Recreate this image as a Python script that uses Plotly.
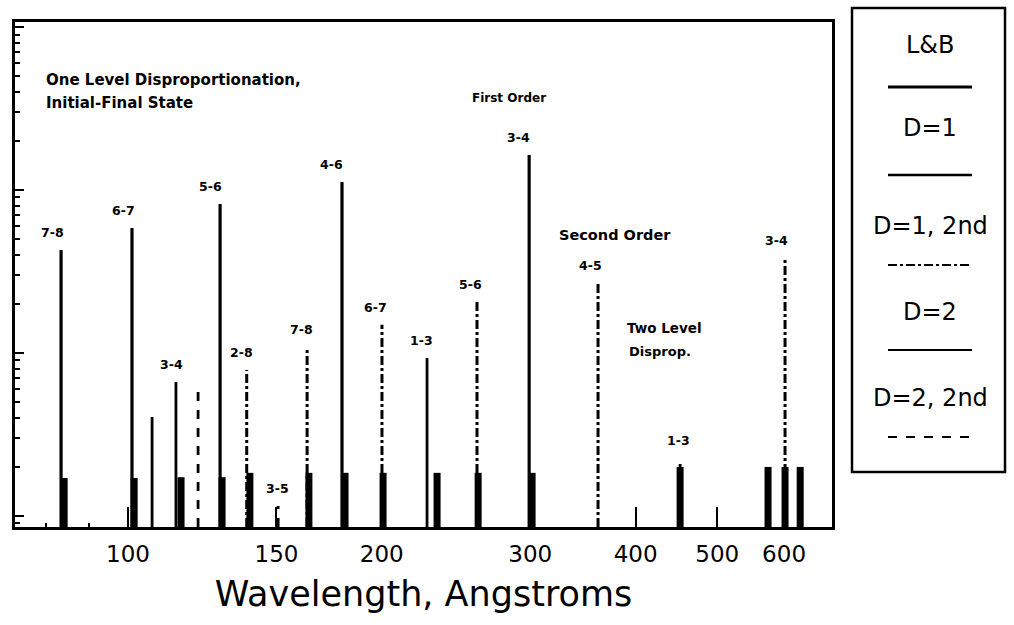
import plotly.graph_objects as go
import math

# ---------------- data ----------------
# L&B observed lines (short thick bars)
lb_wavelength = [84.0, 101.7, 115.6, 129.3, 139.5, 163.9, 180.9, 200.7, 232.6, 260.2, 301.5, 451.7, 574.3, 601.6, 627.0]
lb_intensity = [1.71, 1.71, 1.73, 1.73, 1.84, 1.84, 1.84, 1.84, 1.84, 1.84, 1.84, 2.0, 2.0, 2.0, 2.0]

# D=1 first order (one level disproportionation)
d1_labels = ["7-8", "6-7", "5-6", "4-6", "3-4"]
d1_wavelength = [83.3, 101.1, 128.6, 179.4, 299.1]
d1_intensity = [42.9, 58.4, 82.0, 112.0, 164.0]

# D=1 second order
d1s_labels = ["2-8", "7-8", "6-7", "5-6", "4-5", "3-4"]
d1s_wavelength = [138.3, 163.1, 200.1, 259.4, 361.0, 601.6]
d1s_intensity = [7.87, 10.9, 14.9, 20.6, 26.9, 38.3]

# D=2 first order (two level disproportionation)
d2_labels = ["", "3-4", "1-3"]
d2_wavelength = [106.8, 114.0, 226.3]
d2_intensity = [4.05, 6.64, 9.31]

# D=2 second order
d2s_labels = ["", "3-5", "1-3"]
d2s_wavelength = [121.1, 150.7, 451.7]
d2s_intensity = [5.77, 1.15, 2.27]

x_tick_values = [100, 150, 200, 300, 400, 500, 600]
x_tick_text = ["100", "150", "200", "300", "400", "500", "600"]
x_minor_ticks = [80, 90]

legend_names = ["L&B", "D=1", "D=1, 2nd", "D=2", "D=2, 2nd"]

# ---------------- layout geometry ----------------
W, H = 1014, 625
L, R, T, B = 15, 182, 22, 98
PW, PH = W - L - R, H - T - B
X_RANGE = [1.866, 2.835]
Y_RANGE = [-0.0675, 3.031]
BASE = 10 ** Y_RANGE[0]


def px(x):
    return (x - L) / PW


def py(y):
    return (H - B - y) / PH


FONT = "DejaVu Sans, Liberation Sans, Arial"
fig = go.Figure()


def spikes(xs, ys, name, width, dash, color="black"):
    X, Y = [], []
    for x, y in zip(xs, ys):
        X += [x, x, None]
        Y += [BASE, y, None]
    fig.add_trace(go.Scatter(x=X, y=Y, mode="lines", name=name, showlegend=False,
                             line=dict(color=color, width=width, dash=dash),
                             hoverinfo="skip"))


spikes(lb_wavelength, lb_intensity, "L&B", 7, "solid")
spikes(d1_wavelength, d1_intensity, "D=1", 3.2, "solid")
spikes(d1s_wavelength, d1s_intensity, "D=1, 2nd", 3, "dashdot")
spikes(d2_wavelength, d2_intensity, "D=2", 2.8, "solid")
spikes(d2s_wavelength, d2s_intensity, "D=2, 2nd", 2.8, "dash")

annotations = []


def label_series(labels, xs, ys):
    for t, x, y in zip(labels, xs, ys):
        if not t:
            continue
        ytop = (H - B) - PH * (math.log10(y) - Y_RANGE[0]) / (Y_RANGE[1] - Y_RANGE[0])
        annotations.append(dict(x=math.log10(x), y=math.log10(y), xref="x", yref="y",
                                text="<b>%s</b>" % t, showarrow=False,
                                xanchor="center", yanchor="bottom", yshift=8,
                                xshift=-0.03 * (H - B - ytop),
                                font=dict(family=FONT, size=12.5, color="black")))


label_series(d1_labels, d1_wavelength, d1_intensity)
label_series(d1s_labels, d1s_wavelength, d1s_intensity)
label_series(d2_labels, d2_wavelength, d2_intensity)
label_series(d2s_labels, d2s_wavelength, d2s_intensity)

# descriptive texts inside the plot
texts = [("One Level Disproportionation,", 44, 80, 15),
         ("Initial-Final State", 44, 103, 15),
         ("First Order", 470, 98, 12),
         ("Second Order", 557, 235, 14.5),
         ("Two Level", 625, 328, 13.5),
         ("Disprop.", 627, 351, 13)]
for t, x, y, s in texts:
    annotations.append(dict(x=px(x), y=py(y), xref="paper", yref="paper",
                            text="<b>%s</b>" % t, showarrow=False,
                            xanchor="left", yanchor="middle",
                            font=dict(family=FONT, size=s, color="black")))

# legend box (custom, text above line sample)
shapes = [dict(type="rect", xref="paper", yref="paper",
               x0=px(852), x1=px(1005), y0=py(472), y1=py(8),
               line=dict(color="black", width=2.5))]
legend_text_y = [45, 128, 226, 312, 398]
legend_line_y = [87, 175, 265, 350, 437]
legend_dash = ["solid", "solid", "dashdot", "solid", "dash"]
legend_width = [3, 2.5, 2, 2, 2]
for name, ty, ly, d, w in zip(legend_names, legend_text_y, legend_line_y, legend_dash, legend_width):
    annotations.append(dict(x=px(930), y=py(ty), xref="paper", yref="paper",
                            text=name, showarrow=False, xanchor="center", yanchor="middle",
                            font=dict(family=FONT, size=24, color="black")))
    shapes.append(dict(type="line", xref="paper", yref="paper",
                       x0=px(888), x1=px(972), y0=py(ly), y1=py(ly),
                       line=dict(color="black", width=w, dash=d)))

fig.update_layout(
    width=W, height=H, autosize=False,
    margin=dict(l=L, r=R, t=T, b=B),
    paper_bgcolor="white", plot_bgcolor="white",
    showlegend=False,
    annotations=annotations, shapes=shapes,
    font=dict(family=FONT, color="black"),
)
fig.update_xaxes(
    type="log", range=X_RANGE,
    tickmode="array", tickvals=x_tick_values, ticktext=x_tick_text,
    ticks="inside", ticklen=20, tickwidth=2, tickcolor="black",
    tickfont=dict(family=FONT, size=23, color="black"),
    ticklabelstandoff=5,
    minor=dict(tickmode="array", tickvals=x_minor_ticks, ticks="inside", ticklen=4,
               tickcolor="black", showgrid=False),
    showgrid=False, zeroline=False,
    showline=True, linecolor="black", linewidth=2.5, mirror=True,
    title=dict(text="Wavelength, Angstroms", font=dict(family=FONT, size=35, color="black"),
               standoff=16),
)
fig.update_yaxes(
    type="log", range=Y_RANGE, dtick=1,
    ticks="inside", ticklen=9, tickwidth=2, tickcolor="black",
    showticklabels=False,
    minor=dict(ticks="inside", ticklen=5, dtick="D1", tickcolor="black", showgrid=False),
    showgrid=False, zeroline=False,
    showline=True, linecolor="black", linewidth=2.5, mirror=True,
)

fig.write_html("out.html")
